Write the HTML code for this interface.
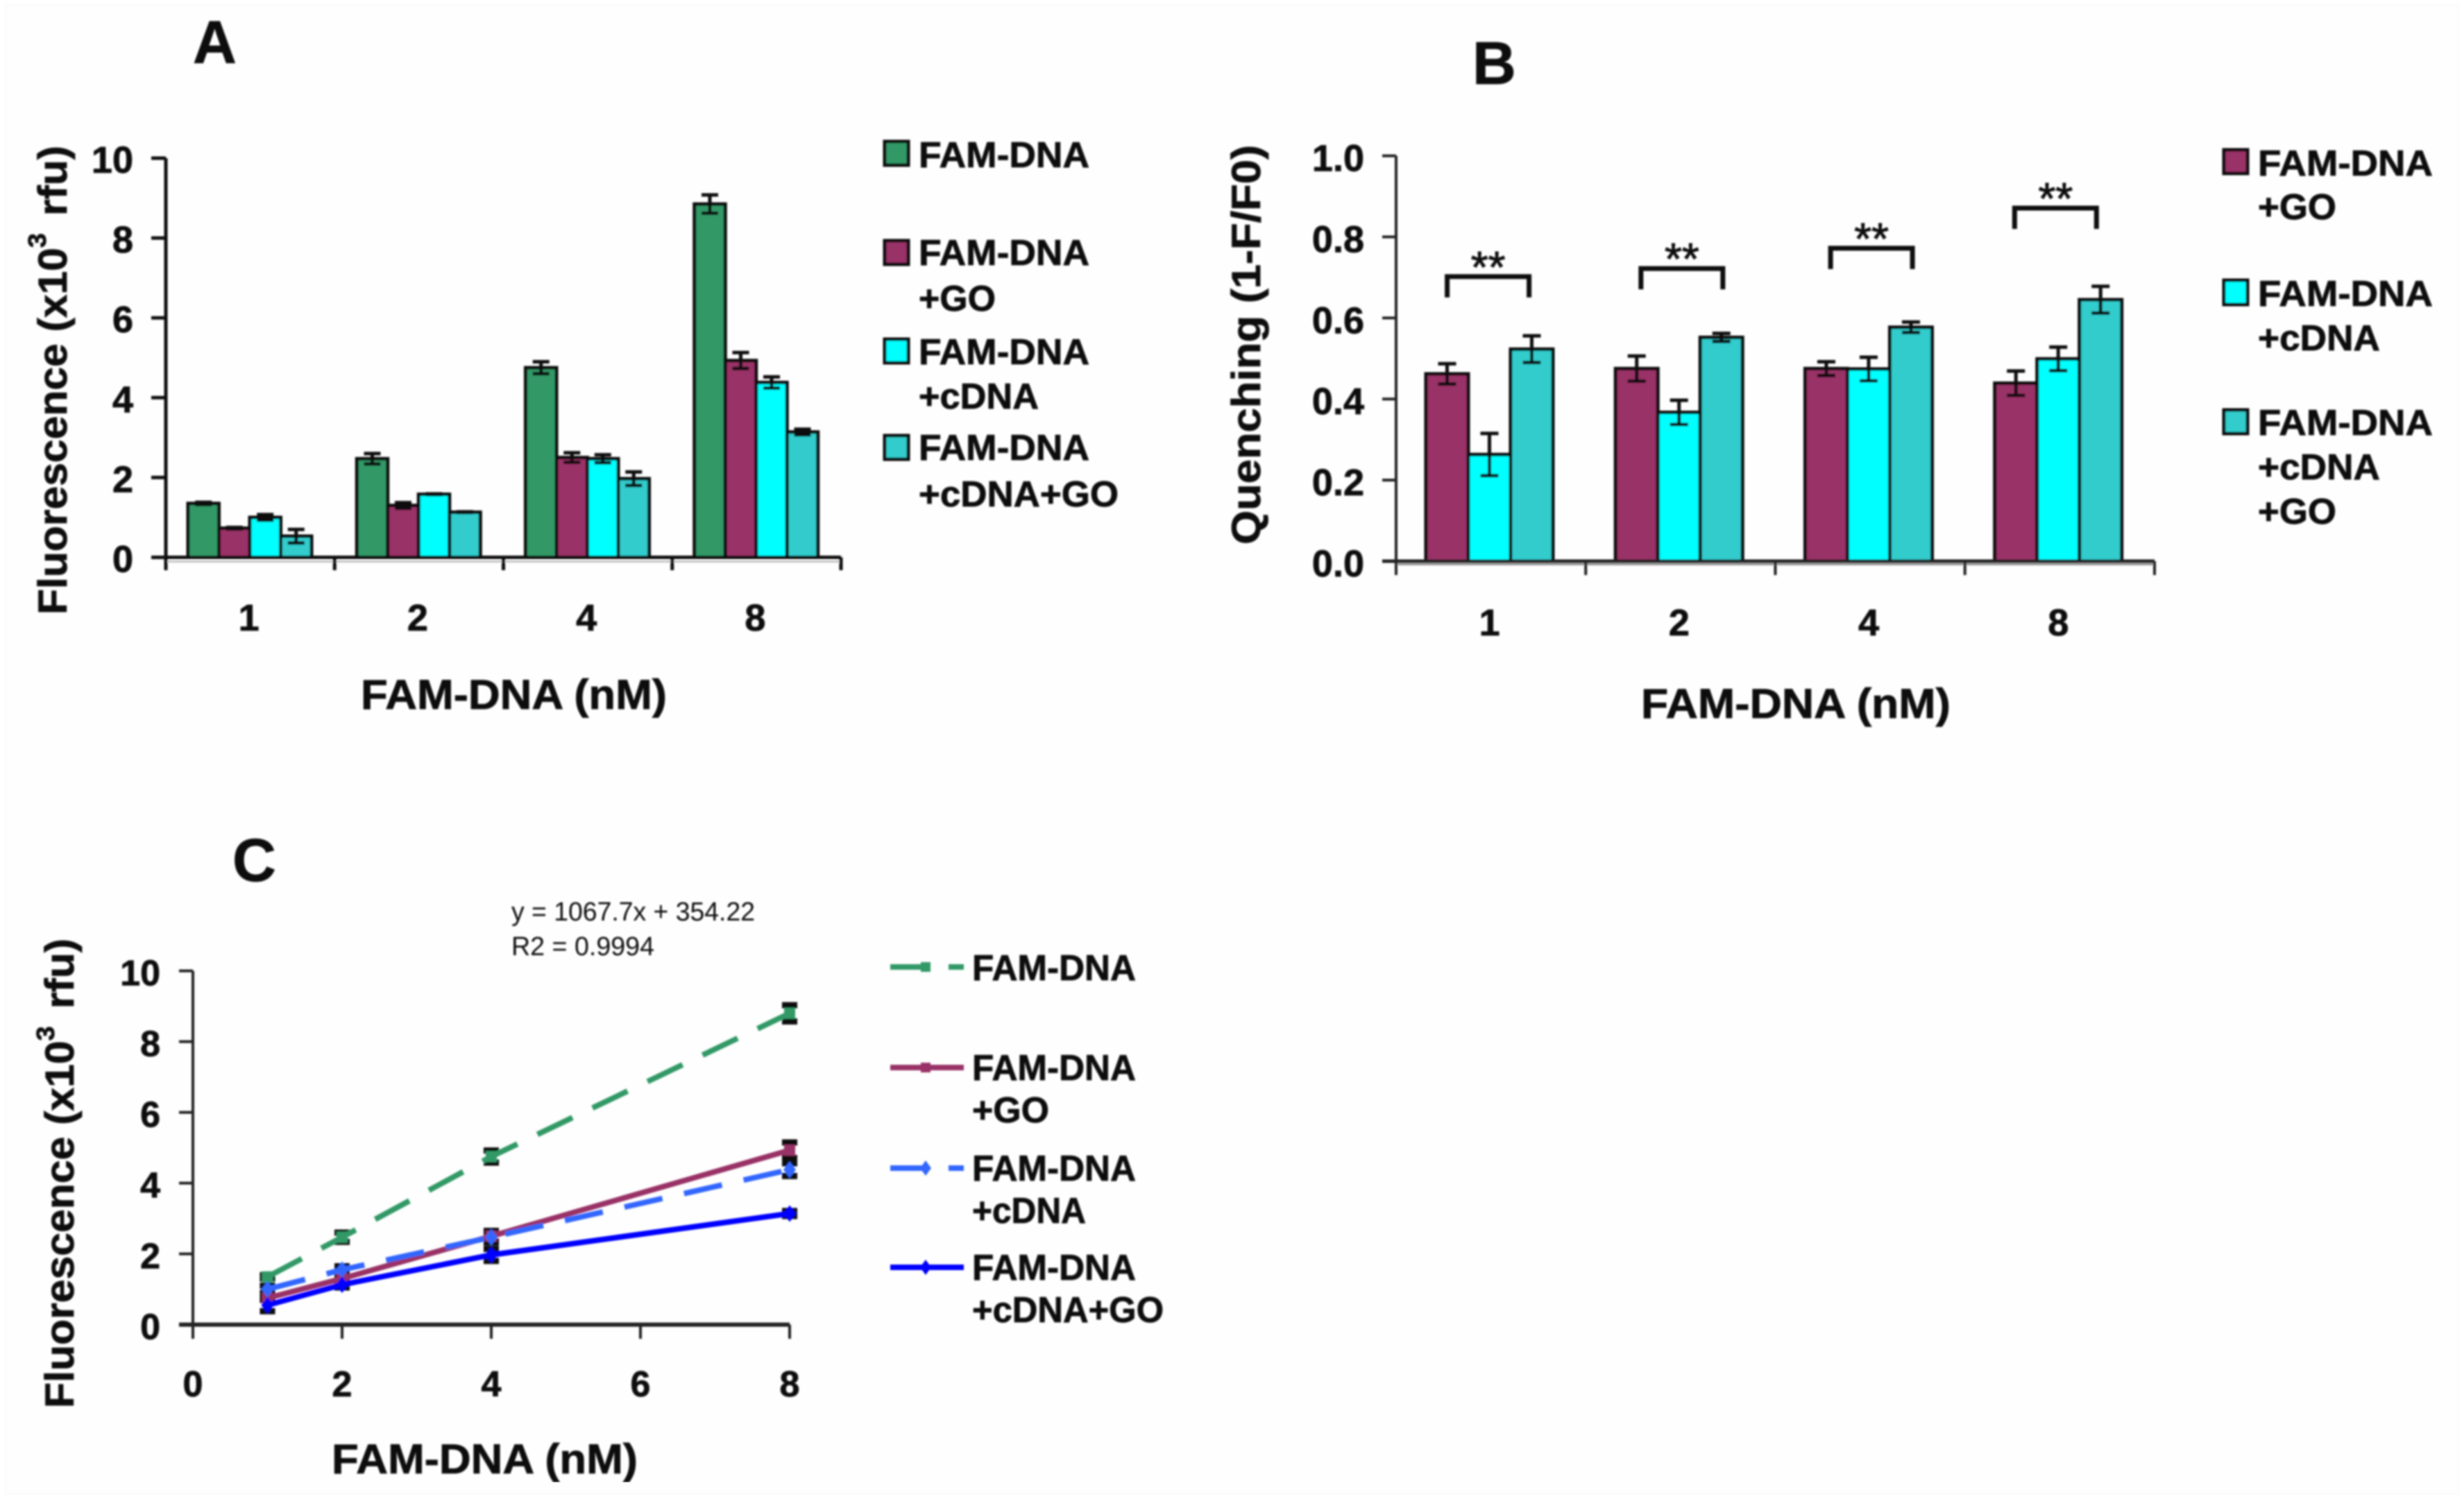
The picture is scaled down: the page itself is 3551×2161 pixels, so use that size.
<!DOCTYPE html>
<html lang="en">
<head>
<meta charset="utf-8">
<title>FAM-DNA fluorescence and quenching charts</title>
<style>
html,body{margin:0;padding:0;background:#fff;}
svg{display:block;}
text{font-family:"Liberation Sans",sans-serif;font-weight:bold;fill:#0a0a0a;stroke:#0a0a0a;stroke-width:0.8px;}
</style>
</head>
<body>
<svg id="figure" xmlns="http://www.w3.org/2000/svg" width="3551" height="2161" viewBox="0 0 3551 2161">
  <defs><filter id="soft" x="0" y="0" width="100%" height="100%"><feGaussianBlur stdDeviation="1.2"/></filter></defs>
  <rect x="8" y="7" width="3535" height="2146" fill="#fefefe" stroke="#fbfbfb" stroke-width="3"/>
  <g id="root" filter="url(#soft)">
    <text x="278" y="91" font-size="87">A</text>
    <text x="2122" y="121" font-size="87">B</text>
    <text x="335" y="1270" font-size="87">C</text>

    <g id="chartA"></g>
    <text transform="translate(96,886) rotate(-90)" font-size="58" textLength="676" lengthAdjust="spacingAndGlyphs">Fluorescence (x10<tspan dy="-30" font-size="36">3</tspan><tspan dy="30" dx="8"> rfu)</tspan></text>
    <text x="520" y="1022" font-size="60" textLength="441" lengthAdjust="spacingAndGlyphs">FAM-DNA (nM)</text>
    <g font-size="52">
      <rect x="1275" y="204" width="34" height="34" fill="#339966" stroke="#111" stroke-width="5"/>
      <text x="1324" y="241" textLength="246" lengthAdjust="spacingAndGlyphs">FAM-DNA</text>
      <rect x="1275" y="347" width="34" height="34" fill="#993366" stroke="#111" stroke-width="5"/>
      <text x="1324" y="382" textLength="246" lengthAdjust="spacingAndGlyphs">FAM-DNA</text>
      <text x="1324" y="448" textLength="111" lengthAdjust="spacingAndGlyphs">+GO</text>
      <rect x="1275" y="489" width="34" height="34" fill="#00ffff" stroke="#111" stroke-width="5"/>
      <text x="1324" y="525" textLength="246" lengthAdjust="spacingAndGlyphs">FAM-DNA</text>
      <text x="1324" y="589" textLength="173" lengthAdjust="spacingAndGlyphs">+cDNA</text>
      <rect x="1275" y="628" width="34" height="34" fill="#33cccc" stroke="#111" stroke-width="5"/>
      <text x="1324" y="663" textLength="246" lengthAdjust="spacingAndGlyphs">FAM-DNA</text>
      <text x="1324" y="730" textLength="288" lengthAdjust="spacingAndGlyphs">+cDNA+GO</text>
    </g>

    <g id="chartB"></g>
    <text transform="translate(1816,785) rotate(-90)" font-size="58" textLength="576" lengthAdjust="spacingAndGlyphs">Quenching (1-F/F0)</text>
    <text x="2365" y="1035" font-size="60" textLength="446" lengthAdjust="spacingAndGlyphs">FAM-DNA (nM)</text>
    <g font-size="52">
      <rect x="3205" y="216" width="34" height="34" fill="#993366" stroke="#111" stroke-width="5"/>
      <text x="3254" y="253" textLength="252" lengthAdjust="spacingAndGlyphs">FAM-DNA</text>
      <text x="3254" y="316" textLength="113" lengthAdjust="spacingAndGlyphs">+GO</text>
      <rect x="3205" y="404" width="34" height="35" fill="#00ffff" stroke="#111" stroke-width="5"/>
      <text x="3254" y="441" textLength="252" lengthAdjust="spacingAndGlyphs">FAM-DNA</text>
      <text x="3254" y="505" textLength="176" lengthAdjust="spacingAndGlyphs">+cDNA</text>
      <rect x="3205" y="591" width="34" height="34" fill="#33cccc" stroke="#111" stroke-width="5"/>
      <text x="3254" y="627" textLength="252" lengthAdjust="spacingAndGlyphs">FAM-DNA</text>
      <text x="3254" y="691" textLength="176" lengthAdjust="spacingAndGlyphs">+cDNA</text>
      <text x="3254" y="755" textLength="113" lengthAdjust="spacingAndGlyphs">+GO</text>
    </g>

    <g id="chartC"></g>
    <text transform="translate(106,2030) rotate(-90)" font-size="58" textLength="677" lengthAdjust="spacingAndGlyphs">Fluorescence (x10<tspan dy="-28" font-size="36">3</tspan><tspan dy="28" dx="8"> rfu)</tspan></text>
    <text x="478" y="2124" font-size="60" textLength="441" lengthAdjust="spacingAndGlyphs">FAM-DNA (nM)</text>
    <text x="737" y="1327" font-size="38" style="font-weight:normal;stroke-width:0" textLength="351" lengthAdjust="spacingAndGlyphs">y = 1067.7x + 354.22</text>
    <text x="737" y="1377" font-size="38" style="font-weight:normal;stroke-width:0" textLength="206" lengthAdjust="spacingAndGlyphs">R2 = 0.9994</text>
    <g font-size="52">
      <line x1="1283" y1="1394" x2="1389" y2="1394" stroke="#339966" stroke-width="8" stroke-dasharray="56 28"/>
      <rect x="1327" y="1387" width="14" height="14" fill="#339966"/>
      <text x="1401" y="1413" textLength="236" lengthAdjust="spacingAndGlyphs">FAM-DNA</text>
      <line x1="1283" y1="1539" x2="1389" y2="1539" stroke="#993366" stroke-width="8"/>
      <rect x="1327" y="1532" width="14" height="14" fill="#993366"/>
      <text x="1401" y="1557" textLength="236" lengthAdjust="spacingAndGlyphs">FAM-DNA</text>
      <text x="1401" y="1618" textLength="111" lengthAdjust="spacingAndGlyphs">+GO</text>
      <line x1="1283" y1="1684" x2="1389" y2="1684" stroke="#3366ff" stroke-width="8" stroke-dasharray="56 28"/>
      <polygon points="1334,1673 1342,1684 1334,1695 1326,1684" fill="#3366ff"/>
      <text x="1401" y="1702" textLength="236" lengthAdjust="spacingAndGlyphs">FAM-DNA</text>
      <text x="1401" y="1763" textLength="164" lengthAdjust="spacingAndGlyphs">+cDNA</text>
      <line x1="1283" y1="1827" x2="1389" y2="1827" stroke="#0000ff" stroke-width="8"/>
      <polygon points="1334,1816 1342,1827 1334,1838 1326,1827" fill="#0000ff"/>
      <text x="1401" y="1845" textLength="236" lengthAdjust="spacingAndGlyphs">FAM-DNA</text>
      <text x="1401" y="1906" textLength="276" lengthAdjust="spacingAndGlyphs">+cDNA+GO</text>
    </g>
  </g>
</svg>
<script>
// ---- Chart A data ----
const categoriesA = ['1', '2', '4', '8'];
const famDnaA = [1.35, 2.47, 4.75, 8.85];
const goA = [0.73, 1.30, 2.50, 4.93];
const cdnaA = [1.00, 1.58, 2.47, 4.38];
const cdnaGoA = [0.53, 1.13, 1.97, 3.14];
const famDnaErrA = [0.03, 0.13, 0.15, 0.23];
const goErrA = [0.02, 0.07, 0.12, 0.20];
const cdnaErrA = [0.07, 0.01, 0.10, 0.14];
const cdnaGoErrA = [0.17, 0.01, 0.17, 0.07];
const yTicksA = [0, 2, 4, 6, 8, 10];

// ---- Chart B data ----
const categoriesB = ['1', '2', '4', '8'];
const goB = [0.462, 0.475, 0.475, 0.439];
const cdnaB = [0.263, 0.367, 0.474, 0.499];
const cdnaGoB = [0.523, 0.552, 0.577, 0.645];
const goErrB = [0.025, 0.031, 0.017, 0.030];
const cdnaErrB = [0.052, 0.030, 0.029, 0.029];
const cdnaGoErrB = [0.033, 0.010, 0.013, 0.033];
const yTicksB = ['0.0', '0.2', '0.4', '0.6', '0.8', '1.0'];
const bracketLevelsB = [0.702, 0.722, 0.772, 0.871];

// ---- Chart C data ----
const concentrationsC = [1, 2, 4, 8];
const famDnaC = [1.35, 2.47, 4.75, 8.80];
const goC = [0.75, 1.30, 2.50, 4.93];
const cdnaC = [1.00, 1.55, 2.47, 4.38];
const cdnaGoC = [0.55, 1.13, 1.97, 3.14];
const famDnaErrC = [0.05, 0.13, 0.17, 0.23];
const goErrC = [0.05, 0.10, 0.15, 0.22];
const cdnaErrC = [0.10, 0.10, 0.15, 0.18];
const cdnaGoErrC = [0.17, 0.08, 0.17, 0.07];
const xTicksC = [0, 2, 4, 6, 8];
const yTicksC = [0, 2, 4, 6, 8, 10];

const NS = 'http://www.w3.org/2000/svg';
const INK = '#111';

function make(parent, tag, attrs, content) {
  const node = document.createElementNS(NS, tag);
  for (const key in attrs) node.setAttribute(key, attrs[key]);
  if (content !== undefined) node.textContent = content;
  parent.appendChild(node);
  return node;
}

function errorBar(parent, x, yTop, yBottom, capHalf, width) {
  const g = make(parent, 'g', {stroke: INK, 'stroke-width': width, fill: 'none'});
  
  
  make(g, 'line', {x1: x, x2: x, y1: yTop, y2: yBottom});
  make(g, 'line', {x1: x - capHalf, x2: x + capHalf, y1: yTop, y2: yTop});
  make(g, 'line', {x1: x - capHalf, x2: x + capHalf, y1: yBottom, y2: yBottom});
}

// ---- Chart A ----
(function () {
  const root = document.getElementById('chartA');
  const x0 = 239, groupW = 243.25, barW = 44.5, pad = 32;
  const yA = v => 803.5 - v * 57.55;
  const barX = (g, s) => x0 + g * groupW + pad + s * barW;
  const series = [
    {values: famDnaA, errs: famDnaErrA, color: '#339966'},
    {values: goA, errs: goErrA, color: '#993366'},
    {values: cdnaA, errs: cdnaErrA, color: '#00ffff'},
    {values: cdnaGoA, errs: cdnaGoErrA, color: '#33cccc'}
  ];
  series.forEach((s, si) => {
    s.values.forEach((v, g) => {
      const bar = make(root, 'rect', {x: barX(g, si), y: yA(v), width: barW, height: yA(0) - yA(v), fill: s.color, stroke: INK, 'stroke-width': 5});
      
      
    });
  });
  series.forEach((s, si) => {
    s.values.forEach((v, g) => {
      errorBar(root, barX(g, si) + barW / 2, yA(v + s.errs[g]), yA(v - s.errs[g]), 12, 5);
    });
  });
  const shadow = make(root, 'line', {x1: x0, x2: 1212, y1: yA(0) + 6, y2: yA(0) + 6, stroke: '#c4c4c4', 'stroke-width': 3});
  
  
  const yAxis = make(root, 'line', {x1: x0, x2: x0, y1: yA(10), y2: yA(0), stroke: INK, 'stroke-width': 5});
  
  
  const xAxis = make(root, 'line', {x1: 218, x2: 1212, y1: yA(0), y2: yA(0), stroke: INK, 'stroke-width': 5});
  
  
  yTicksA.forEach(t => {
    const tick = make(root, 'line', {x1: 218, x2: x0, y1: yA(t), y2: yA(t), stroke: INK, 'stroke-width': 5});
    
    
    const label = make(root, 'text', {x: 192, y: yA(t) + 21, 'font-size': 54, 'text-anchor': 'end'}, String(t));
    
    
  });
  for (let i = 0; i <= categoriesA.length; i++) {
    const px = x0 + i * groupW;
    const tick = make(root, 'line', {x1: px, x2: px, y1: yA(0), y2: 822, stroke: INK, 'stroke-width': 5});
    
    
  }
  categoriesA.forEach((c, i) => {
    const label = make(root, 'text', {x: x0 + (i + 0.5) * groupW - 2, y: 909, 'font-size': 54, 'text-anchor': 'middle'}, c);
    
    
  });
})();

// ---- Chart B ----
(function () {
  const root = document.getElementById('chartB');
  const x0 = 2012, groupW = 273.25, barW = 61, pad = 43;
  const yB = v => 809 - v * 584.4;
  const barX = (g, s) => x0 + g * groupW + pad + s * barW;
  const bracketNudge = [-4, 2, 2, -6];
  const series = [
    {values: goB, errs: goErrB, color: '#993366'},
    {values: cdnaB, errs: cdnaErrB, color: '#00ffff'},
    {values: cdnaGoB, errs: cdnaGoErrB, color: '#33cccc'}
  ];
  series.forEach((s, si) => {
    s.values.forEach((v, g) => {
      const bar = make(root, 'rect', {x: barX(g, si), y: yB(v), width: barW, height: yB(0) - yB(v), fill: s.color, stroke: INK, 'stroke-width': 5});
      
      
    });
  });
  series.forEach((s, si) => {
    s.values.forEach((v, g) => {
      errorBar(root, barX(g, si) + barW / 2, yB(v + s.errs[g]), yB(v - s.errs[g]), 13, 5);
    });
  });
  const shadow = make(root, 'line', {x1: x0, x2: 3105, y1: yB(0) + 4, y2: yB(0) + 4, stroke: '#9a9a9a', 'stroke-width': 4});
  
  
  const yAxis = make(root, 'line', {x1: x0, x2: x0, y1: yB(1), y2: yB(0), stroke: '#222', 'stroke-width': 4});
  
  
  const xAxis = make(root, 'line', {x1: 1992, x2: 3105, y1: yB(0), y2: yB(0), stroke: '#222', 'stroke-width': 5});
  
  
  yTicksB.forEach(t => {
    const v = parseFloat(t);
    const tick = make(root, 'line', {x1: 1992, x2: x0, y1: yB(v), y2: yB(v), stroke: '#222', 'stroke-width': 4});
    
    
    const label = make(root, 'text', {x: 1966, y: yB(v) + 22, 'font-size': 54, 'text-anchor': 'end'}, t);
    
    
  });
  for (let i = 0; i <= categoriesB.length; i++) {
    const px = x0 + i * groupW;
    const tick = make(root, 'line', {x1: px, x2: px, y1: yB(0), y2: 829, stroke: '#222', 'stroke-width': 4});
    
    
  }
  categoriesB.forEach((c, i) => {
    const cx = x0 + (i + 0.5) * groupW;
    const label = make(root, 'text', {x: cx - 2, y: 916, 'font-size': 54, 'text-anchor': 'middle'}, c);
    
    
    const top = yB(bracketLevelsB[i]);
    const bx = cx + bracketNudge[i];
    const bracket = make(root, 'path', {d: 'M' + (bx - 59) + ' ' + (top + 30) + 'V' + top + 'H' + (bx + 59) + 'V' + (top + 30), fill: 'none', stroke: INK, 'stroke-width': 7});
    
    
    const stars = make(root, 'text', {x: bx, y: top + 8, 'font-size': 64, 'text-anchor': 'middle', style: 'font-weight:normal;stroke-width:1'}, '**');
    
    
  });
})();

// ---- Chart C ----
(function () {
  const root = document.getElementById('chartC');
  const xC = v => 278 + v * 107.5;
  const yC = v => 1909.6 - v * 51;
  const series = [
    {values: famDnaC, errs: famDnaErrC, color: '#339966', dash: '56 32', marker: 'square'},
    {values: goC, errs: goErrC, color: '#993366', dash: null, marker: 'square'},
    {values: cdnaC, errs: cdnaErrC, color: '#3366ff', dash: '56 32', marker: 'diamond'},
    {values: cdnaGoC, errs: cdnaGoErrC, color: '#0000ff', dash: null, marker: 'diamond'}
  ];
  series.forEach(s => {
    s.values.forEach((v, i) => {
      errorBar(root, xC(concentrationsC[i]), yC(v + s.errs[i]), yC(v - s.errs[i]), 11, 9);
    });
  });
  series.forEach(s => {
    const pts = s.values.map((v, i) => xC(concentrationsC[i]) + ',' + yC(v)).join(' ');
    const attrs = {points: pts, fill: 'none', stroke: s.color, 'stroke-width': 8};
    if (s.dash) attrs['stroke-dasharray'] = s.dash;
    const line = make(root, 'polyline', attrs);
    
    
    s.values.forEach((v, i) => {
      const px = xC(concentrationsC[i]), py = yC(v);
      let m;
      if (s.marker === 'square') {
        m = make(root, 'rect', {x: px - 8, y: py - 8, width: 16, height: 16, fill: s.color});
      } else {
        m = make(root, 'polygon', {points: px + ',' + (py - 12) + ' ' + (px + 9) + ',' + py + ' ' + px + ',' + (py + 12) + ' ' + (px - 9) + ',' + py, fill: s.color});
      }
      
      
    });
  });
  const yAxis = make(root, 'line', {x1: xC(0), x2: xC(0), y1: yC(10), y2: yC(0), stroke: '#222', 'stroke-width': 4});
  
  
  const xAxis = make(root, 'line', {x1: 258, x2: xC(8), y1: yC(0), y2: yC(0), stroke: '#222', 'stroke-width': 6});
  
  
  yTicksC.forEach(t => {
    const tick = make(root, 'line', {x1: 258, x2: xC(0), y1: yC(t), y2: yC(t), stroke: '#222', 'stroke-width': 4});
    
    
    const label = make(root, 'text', {x: 231, y: yC(t) + 21, 'font-size': 52, 'text-anchor': 'end'}, String(t));
    
    
  });
  xTicksC.forEach(t => {
    const tick = make(root, 'line', {x1: xC(t), x2: xC(t), y1: yC(0), y2: 1930, stroke: '#222', 'stroke-width': 4});
    
    
    const label = make(root, 'text', {x: xC(t), y: 2013, 'font-size': 52, 'text-anchor': 'middle'}, String(t));
    
    
  });
})();
</script>
</body>
</html>
